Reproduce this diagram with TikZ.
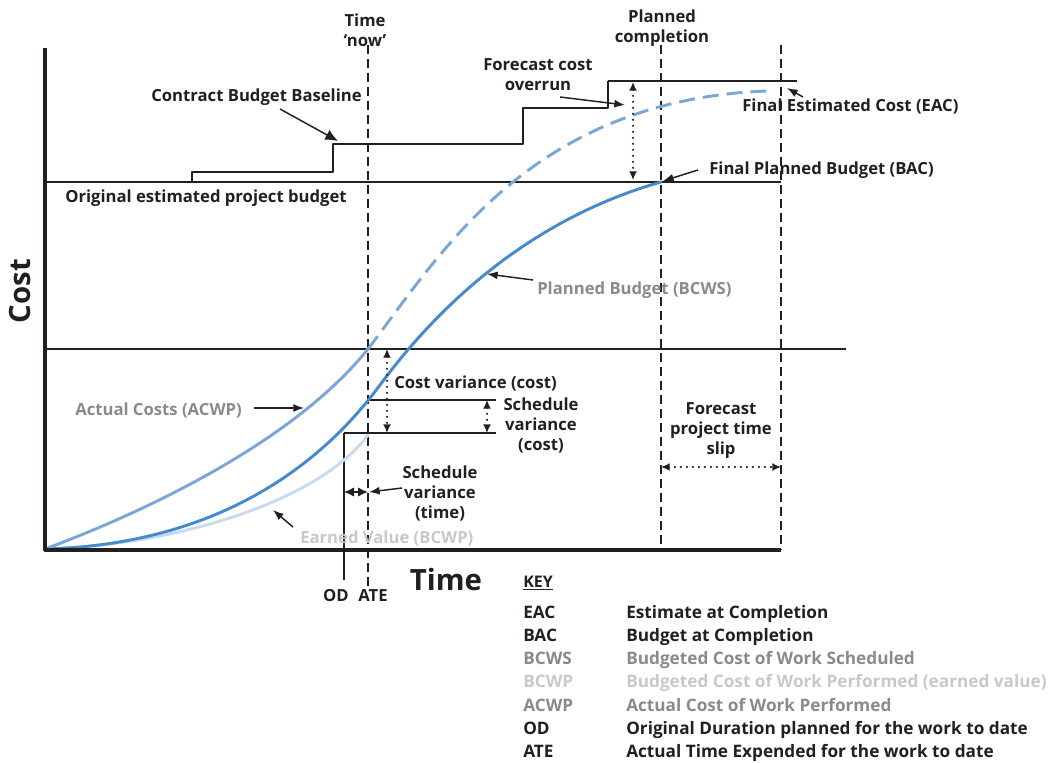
\documentclass[tikz,border=0pt]{standalone}
\usepackage{fontspec}
\setmainfont{Open Sans}
\usetikzlibrary{arrows.meta}
\definecolor{ink}{RGB}{35,31,32}
\definecolor{planblue}{RGB}{68,138,204}
\definecolor{actblue}{RGB}{122,166,216}
\definecolor{evblue}{RGB}{198,218,240}
\definecolor{keygray}{RGB}{138,138,138}
\definecolor{evgray}{RGB}{200,200,200}

\begin{document}
\begin{tikzpicture}[x=0.75pt,y=-0.75pt,line join=round,ink,
  font=\bfseries\fontsize{12.5}{15}\selectfont,
  txt/.style={inner sep=0pt,align=center},
  keytxt/.style={inner sep=0pt,anchor=base west,font=\bfseries\fontsize{12.9}{15}\selectfont},
  gridline/.style={line width=1.1pt},
  vdash/.style={line width=1.4pt,dash pattern=on 7pt off 3.5pt},
  curve/.style={line width=2.2pt,line cap=round},
  arr/.style={line width=1.1pt,-{Latex[length=8pt,width=6pt]}},
  dotarr/.style={line width=1.8pt,line cap=round,dash pattern=on 0pt off 4.5pt,{Latex[length=6.5pt,width=6pt]}-{Latex[length=6.5pt,width=6pt]}}]
\useasboundingbox (0,0) rectangle (1058,763);
\draw[gridline] (45,182) -- (781,182) (45,349) -- (846,349);
\draw[vdash] (368,45) -- (368,588) (661,45) -- (661,550) (781,45) -- (781,550);
\draw[gridline] (344,433) -- (344,580) (344,433) -- (496,433) (368,400) -- (496,400);
\draw[line width=1.6pt] (192,182) -- (192,172) -- (333,172) -- (333,144) -- (523,144) -- (523,108) -- (608,108) -- (608,81);
\draw[line width=2pt] (608,81) -- (797,81);
\draw[curve,evblue] (45,549) .. controls (180,545) and (320,500) .. (368,435);
\draw[curve,planblue] (45,549) .. controls (200,545) and (310,480) .. (380,385) .. controls (420,331) and (510,225) .. (661,182);
\draw[curve,actblue] (45,549) .. controls (150,510) and (295,440) .. (368,349);
\draw[curve,actblue,line cap=butt,dash pattern=on 12pt off 6pt] (368,349) .. controls (440,255) and (530,100) .. (767,91);
\draw[line width=2.4pt] (45,48) -- (45,550) -- (781,550);
\node[txt] (tnow) at (365,30) {Time\\‘now’};
\node[txt] (pcomp) at (662,28) {Planned\\completion};
\node[txt] (fco) at (538,75) {Forecast cost\\overrun};
\node[txt,anchor=base west] (cbb) at (151,102) {Contract Budget Baseline};
\node[txt,anchor=base west] (oepb) at (65,203) {Original estimated project budget};
\node[txt,anchor=base west] (feac) at (742,112) {Final Estimated Cost (EAC)};
\node[txt,anchor=base west] (fbac) at (709,175) {Final Planned Budget (BAC)};
\node[txt,anchor=base west,keygray] (pbud) at (537,295) {Planned Budget (BCWS)};
\node[txt,anchor=base west,keygray] (acost) at (75,416) {Actual Costs (ACWP)};
\node[txt,anchor=base west,evgray] (evalue) at (300,543) {Earned Value (BCWP)};
\node[txt,anchor=base west] (cvar) at (394,388) {Cost variance (cost)};
\node[txt] (svc) at (541,425) {Schedule\\variance\\(cost)};
\node[txt] (svt) at (440,493) {Schedule\\variance\\(time)};
\node[txt] (fpts) at (721,431) {Forecast\\project time\\slip};
\node[txt,rotate=90,font=\bfseries\fontsize{22}{26}\selectfont] (ycost) at (20,291) {Cost};
\node[txt,anchor=base,font=\bfseries\fontsize{22}{26}\selectfont] (xtime) at (446,590) {Time};
\node[txt,anchor=base] (od) at (336,601) {OD};
\node[txt,anchor=base] (ate) at (373,601) {ATE};
\coordinate (cbbtail) at (280,109);
\coordinate (cbbtip) at (338,141);
\coordinate (fcotail) at (560,97);
\coordinate (fcotip) at (625,105);
\coordinate (feactail) at (803,97);
\coordinate (feactip) at (787,88);
\coordinate (fbactail) at (698,170);
\coordinate (fbactip) at (663,181);
\coordinate (pbudtail) at (533,280);
\coordinate (pbudtip) at (487,274);
\coordinate (acosttail) at (254,408);
\coordinate (acosttip) at (304,408);
\coordinate (evtail) at (293,527);
\coordinate (evtip) at (273,510);
\coordinate (svttail) at (402,488);
\coordinate (svttip) at (369,492);
\coordinate (ovtop) at (633,82);
\coordinate (ovbot) at (633,180);
\coordinate (cvtop) at (387,349);
\coordinate (cvbot) at (387,433);
\coordinate (svtop) at (487,400);
\coordinate (svbot) at (487,433);
\coordinate (sltl) at (661,467);
\coordinate (slr) at (781,467);
\coordinate (odpt) at (344,492);
\coordinate (atept) at (368,492);
\draw[arr,-{Latex[length=9.5pt,width=8.5pt]}] (cbbtail) -- (cbbtip);
\draw[arr] (fcotail) -- (fcotip);
\draw[arr] (feactail) -- (feactip);
\draw[arr] (fbactail) -- (fbactip);
\draw[arr] (pbudtail) -- (pbudtip);
\draw[arr] (acosttail) -- (acosttip);
\draw[arr] (evtail) -- (evtip);
\draw[arr] (svttail) -- (svttip);
\draw[dotarr] (ovtop) -- (ovbot);
\draw[dotarr] (cvtop) -- (cvbot);
\draw[dotarr] (svtop) -- (svbot);
\draw[dotarr] (sltl) -- (slr);
\draw[line width=1pt,{Latex[length=7.5pt,width=7pt]}-{Latex[length=7.5pt,width=7pt]}] (odpt) -- (atept);
\node[keytxt,font=\bfseries\fontsize{12}{12}\selectfont] (key) at (523,587) {\underline{KEY}};
\node[keytxt] (eac) at (523,618) {EAC};
\node[keytxt] (eacd) at (626,618) {Estimate at Completion};
\node[keytxt] (bac) at (523,641) {BAC};
\node[keytxt] (bacd) at (626,641) {Budget at Completion};
\node[keytxt,keygray] (bcws) at (523,664) {BCWS};
\node[keytxt,keygray] (bcwsd) at (626,664) {Budgeted Cost of Work Scheduled};
\node[keytxt,evgray] (bcwp) at (523,687) {BCWP};
\node[keytxt,evgray] (bcwpd) at (626,687) {Budgeted Cost of Work Performed (earned value)};
\node[keytxt,keygray] (acwp) at (523,711) {ACWP};
\node[keytxt,keygray] (acwpd) at (626,711) {Actual Cost of Work Performed};
\node[keytxt] (odk) at (523,734) {OD};
\node[keytxt] (odkd) at (626,734) {Original Duration planned for the work to date};
\node[keytxt] (atek) at (523,757) {ATE};
\node[keytxt] (atekd) at (626,757) {Actual Time Expended for the work to date};
\end{tikzpicture}
\end{document}
